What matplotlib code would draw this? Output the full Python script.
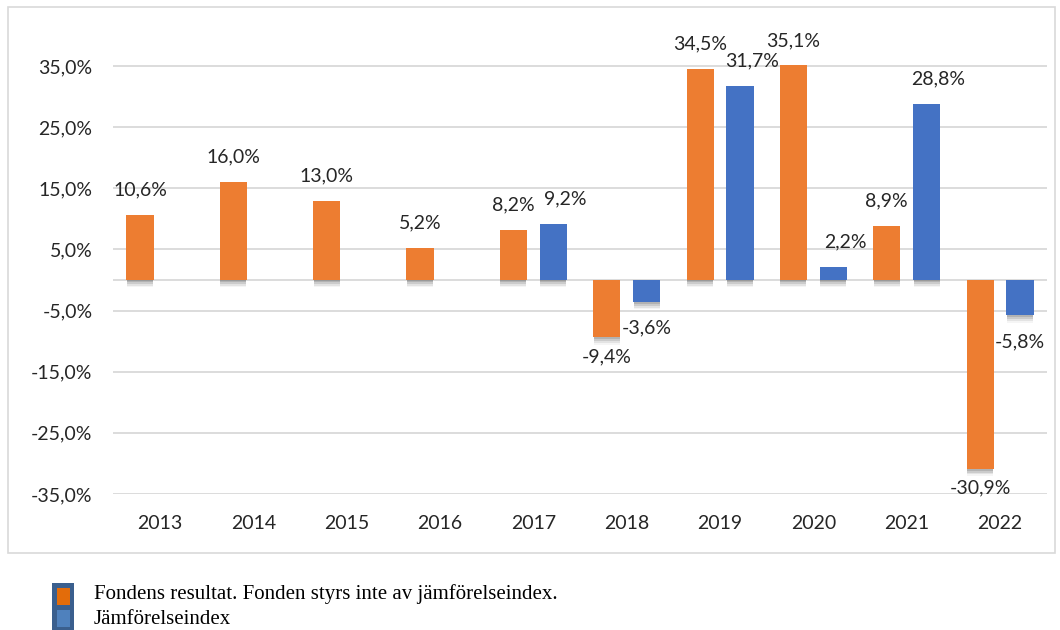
import numpy as np
import matplotlib.pyplot as plt
from matplotlib.patches import Rectangle

## data
years  = ['2013', '2014', '2015', '2016', '2017', '2018', '2019', '2020', '2021', '2022']
fonden = [10.6, 16.0, 13.0, 5.2, 8.2, -9.4, 34.5, 35.1, 8.9, -30.9]
index  = [np.nan, np.nan, np.nan, np.nan, 9.2, -3.6, 31.7, 2.2, 28.8, -5.8]
yticks = [-35, -25, -15, -5, 5, 15, 25, 35]
legend_labels = ['Fondens resultat. Fonden styrs inte av jämförelseindex.', 'Jämförelseindex']

orange = '#ED7D31'
blue   = '#4472C4'

def fmt(v):
    return f'{v:.1f}'.replace('.', ',') + '%'

plt.rcParams['font.family'] = 'Lato'

W, H = 1060, 630
fig = plt.figure(figsize=(W/100, H/100), dpi=100)

# chart area frame
fig.patches.append(Rectangle((8/W, 1-553/H), (1055-8)/W, (553-7)/H, transform=fig.transFigure,
                             fill=False, edgecolor='#D9D9D9', lw=1.2))

ax = fig.add_axes([113.3/W, 1-494/H, 933.4/W, 483/H])
ax.set_xlim(-0.5, 9.5)
ax.set_ylim(-35, 44)

x = np.arange(len(years))
w, off = 0.29, 0.214

# soft shadow under bars
for s, a in [(0.3, 0.12), (0.6, 0.10), (0.9, 0.07), (1.2, 0.04)]:
    ax.bar(x - off, fonden, w - 0.01, bottom=-s, color='black', alpha=a, lw=0, zorder=2)
    ax.bar(x + off, index, w - 0.01, bottom=-s, color='black', alpha=a, lw=0, zorder=2)

ax.bar(x - off, fonden, w, color=orange, lw=0, zorder=3)
ax.bar(x + off, index, w, color=blue, lw=0, zorder=3)

lab = dict(fontsize=14, color='#262626', ha='center', va='center', textcoords='offset points', zorder=4)
for xi, v in zip(x, fonden):
    dy = 18 if v >= 0 else -13.7
    ax.annotate(fmt(v), (xi - off, v), xytext=(0, dy), **lab)
for xi, v in zip(x, index):
    if np.isnan(v):
        continue
    if v >= 0:
        ax.annotate(fmt(v), (xi + off, v), xytext=(8.5, 18), **lab)
    else:
        ax.annotate(fmt(v), (xi + off, v), xytext=(0, -18.7), **lab)

ax.set_yticks(yticks)
ax.set_yticklabels([fmt(t) for t in yticks])
ax.set_xticks(x)
ax.set_xticklabels(years)
ax.tick_params(axis='y', length=0, pad=15, labelsize=14, labelcolor='#262626')
ax.tick_params(axis='x', length=0, pad=15, labelsize=14, labelcolor='#262626')
ax.grid(axis='y', color='#D9D9D9', lw=1.3, zorder=0)
ax.axhline(0, color='#D9D9D9', lw=1.3, zorder=1)
for sp in ax.spines.values():
    sp.set_visible(False)

# legend
fig.patches.append(Rectangle((52/W, 1-631/H), 22/W, 48/H, transform=fig.transFigure,
                             facecolor='#3A5F8E', lw=0))
fig.patches.append(Rectangle((57/W, 1-605/H), 13/W, 17/H, transform=fig.transFigure,
                             facecolor='#E36C0A', lw=0))
fig.patches.append(Rectangle((57/W, 1-627/H), 13/W, 17/H, transform=fig.transFigure,
                             facecolor='#4F81BD', lw=0))
fig.text(94/W, 1-594/H, legend_labels[0], family='Liberation Serif', fontsize=15,
         va='center', ha='left', color='black')
fig.text(94/W, 1-620/H, legend_labels[1], family='Liberation Serif', fontsize=15,
         va='center', ha='left', color='black')

fig.savefig('out.png', dpi=100)
